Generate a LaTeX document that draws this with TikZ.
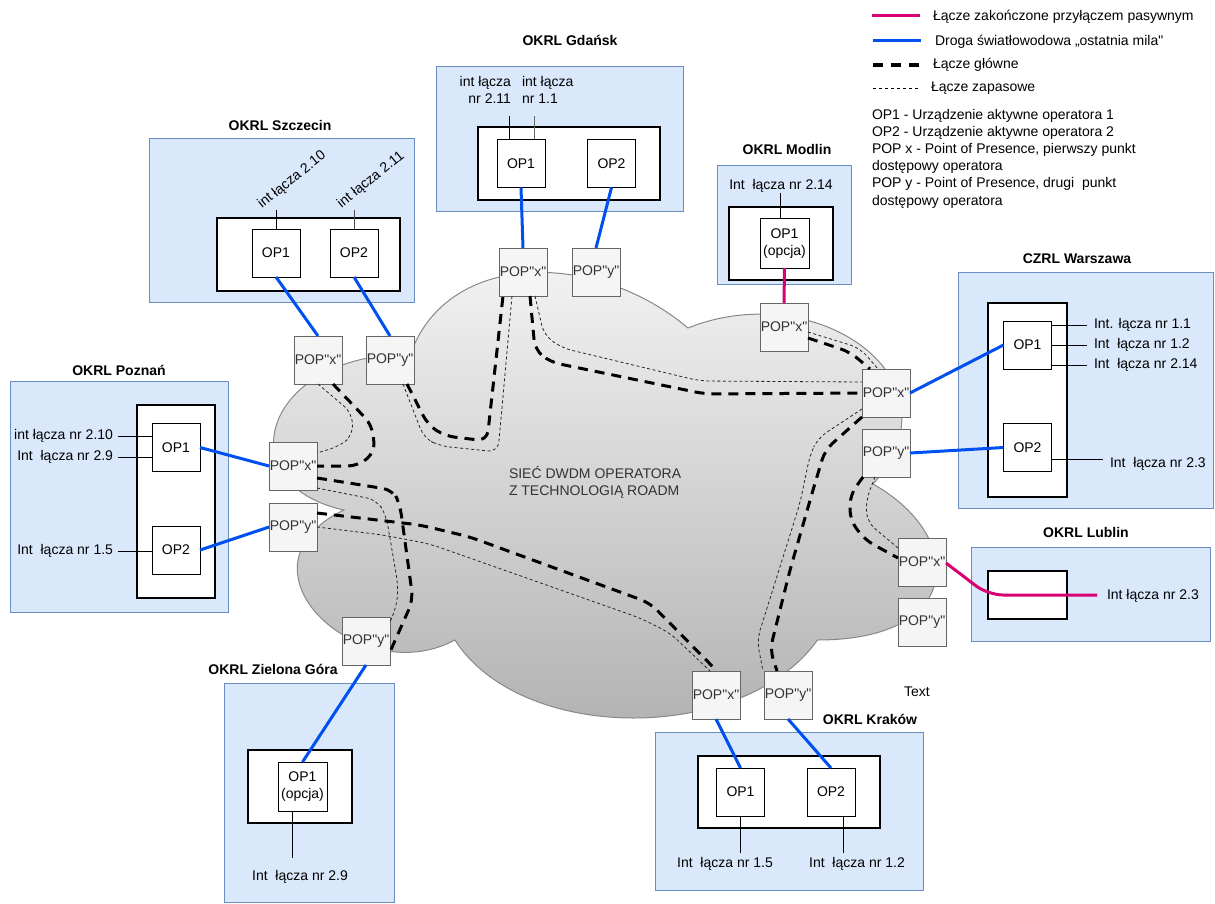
\documentclass[tikz,border=0pt]{standalone}
\usepackage{fontspec}
\setmainfont{Liberation Sans}[Ligatures=TeXOff]
\usetikzlibrary{calc}
\definecolor{regfill}{HTML}{DAE8FC}
\definecolor{regline}{HTML}{6C8EBF}
\definecolor{popfill}{HTML}{F5F5F5}
\definecolor{popline}{HTML}{666666}
\definecolor{poptext}{HTML}{333333}
\definecolor{bluelink}{HTML}{0050EF}
\definecolor{maglink}{HTML}{D80073}
\definecolor{cloudtop}{HTML}{F4F4F4}
\definecolor{cloudbot}{HTML}{B0B0B0}
\definecolor{cloudline}{HTML}{888888}
\begin{document}
\begin{tikzpicture}[x=1pt,y=-1pt,
  every node/.style={font=\fontsize{14}{17}\selectfont, inner sep=0pt, outer sep=0pt},
  region/.style={draw=regline, fill=regfill, line width=1pt},
  frame/.style={draw=black, fill=white, line width=1.3pt},
  opbox/.style={draw=black, fill=white, line width=1pt, minimum width=48pt, minimum height=48pt, align=center},
  popbox/.style={draw=popline, fill=popfill, line width=1pt, minimum width=48pt, minimum height=48pt, text=poptext},
  title/.style={font=\fontsize{14}{17}\selectfont\bfseries, text height=10pt, text depth=3pt},
  lbl/.style={text height=10pt, text depth=3pt},
  mainlink/.style={line width=3pt, dash pattern=on 10pt off 7pt, rounded corners=10pt},
  backlink/.style={line width=0.8pt, dash pattern=on 3pt off 2.5pt, draw=black!85, rounded corners=10pt},
  fiber/.style={line width=3pt, draw=bluelink},
  passive/.style={line width=3pt, draw=maglink},
  wire/.style={line width=1pt, draw=black}]
\useasboundingbox (0,0) rectangle (1215,904);

% cloud
\path[draw=cloudline, line width=1pt, top color=cloudtop, bottom color=cloudbot]
 (410.5,354) .. controls (262.5,354) and (225.5,484) .. (343.9,510)
 .. controls (225.5,567.2) and (358.7,692) .. (454.9,640)
 .. controls (521.5,744) and (743.5,744) .. (817.5,640)
 .. controls (965.5,640) and (965.5,536) .. (873,484)
 .. controls (965.5,380) and (817.5,276) .. (688,328)
 .. controls (595.5,250) and (447.5,250) .. (410.5,354) -- cycle;
\node[align=left, anchor=west, text=poptext] (cloudtxt) at (509,482) {SIEĆ DWDM OPERATORA\\Z TECHNOLOGIĄ ROADM};

% regions
\node[region, minimum width=265pt, minimum height=163pt] (szr) at (281.5,220.5) {};
\node[region, minimum width=247pt, minimum height=145pt] (gdr) at (559.5,139.5) {};
\node[region, minimum width=134pt, minimum height=118pt] (mor) at (784,225) {};
\node[region, minimum width=255pt, minimum height=236pt] (war) at (1085.5,390) {};
\node[region, minimum width=218pt, minimum height=231pt] (por) at (119,496.5) {};
\node[region, minimum width=239pt, minimum height=94pt] (lur) at (1090.5,594) {};
\node[region, minimum width=170pt, minimum height=219pt] (zgr) at (309,792.5) {};
\node[region, minimum width=268pt, minimum height=158pt] (krr) at (789,811) {};

% titles
\node[title] (tsz) at (280,127) {OKRL Szczecin};
\node[title] (tgd) at (570,42) {OKRL Gdańsk};
\node[title] (tmo) at (787,151) {OKRL Modlin};
\node[title] (twa) at (1077,260) {CZRL Warszawa};
\node[title] (tpo) at (119,372) {OKRL Poznań};
\node[title] (tlu) at (1086,534) {OKRL Lublin};
\node[title] (tzg) at (273,671) {OKRL Zielona Góra};
\node[title] (tkr) at (870,721) {OKRL Kraków};

% frames
\node[frame, minimum width=183pt, minimum height=73pt] (szf) at (308.5,254.5) {};
\node[frame, minimum width=182pt, minimum height=73pt] (gdf) at (569,163.5) {};
\node[frame, minimum width=104pt, minimum height=73pt] (mof) at (781,243.5) {};
\node[frame, minimum width=79pt, minimum height=194pt] (waf) at (1027.5,400) {};
\node[frame, minimum width=78pt, minimum height=193pt] (pof) at (176,501.5) {};
\node[frame, minimum width=79pt, minimum height=48pt] (luf) at (1027.5,595) {};
\node[frame, minimum width=104pt, minimum height=73pt] (zgf) at (300,786.5) {};
\node[frame, minimum width=182pt, minimum height=72pt] (krf) at (789,792) {};

% OP devices
\node[opbox] (sz1) at (276,253) {OP1};
\node[opbox] (sz2) at (354,253) {OP2};
\node[opbox] (gd1) at (521,163.5) {OP1};
\node[opbox] (gd2) at (611.5,163.5) {OP2};
\node[opbox, minimum width=49pt, minimum height=49pt] (mo1) at (784.5,243.5) {OP1\\(opcja)};
\node[opbox] (wa1) at (1027.5,345) {OP1};
\node[opbox] (wa2) at (1027.5,447.5) {OP2};
\node[opbox] (po1) at (176,447.5) {OP1};
\node[opbox] (po2) at (176,550) {OP2};
\node[opbox, minimum width=49pt, minimum height=49pt] (zg1) at (302.5,786.5) {OP1\\(opcja)};
\node[opbox] (kr1) at (740.5,792) {OP1};
\node[opbox] (kr2) at (831,792) {OP2};

% POPs
\node[popbox] (szx) at (318,360) {POP"x"};
\node[popbox] (szy) at (390,360) {POP"y"};
\node[popbox] (gdx) at (523,272) {POP"x"};
\node[popbox] (gdy) at (596,272) {POP"y"};
\node[popbox] (mox) at (784,327) {POP"x"};
\node[popbox] (wax) at (886,393) {POP"x"};
\node[popbox] (way) at (886,453) {POP"y"};
\node[popbox] (pox) at (293,466) {POP"x"};
\node[popbox] (poy) at (293,527) {POP"y"};
\node[popbox] (lux) at (922,562) {POP"x"};
\node[popbox] (luy) at (922,622) {POP"y"};
\node[popbox] (zgy) at (366,641) {POP"y"};
\node[popbox] (krx) at (716,695) {POP"x"};
\node[popbox] (kry) at (788,695) {POP"y"};

% main and backup links
\draw[mainlink] ($(szx.south)+(15,0)$) -- (372,425) -- (375,452) -- (358,466) -- (pox.east);
\draw[backlink] (szx.south) -- (352,413) -- (353,435) -- (340,446) -- ($(pox.east)+(0,-13)$);
\draw[mainlink] ($(szy.south)+(17,0)$) -- (428,425) -- (445,436) -- (487,441) -- ($(gdx.south)+(-20,0)$);
\draw[backlink] ($(szy.south)+(13,0)$) -- (424,438) -- (440,446) -- (498,452) -- ($(gdx.south)+(-11,0)$);
\draw[mainlink] ($(gdx.south)+(7,0)$) -- (535,350) -- (550,362) -- (705,394) -- (wax.west);
\draw[backlink] ($(gdx.south)+(12,0)$) -- (544,335) -- (562,348) -- (700,381) -- ($(wax.west)+(0,-11)$);
\draw[mainlink] ($(mox.east)+(0,11)$) -- (850,352) -- ($(wax.north)+(-16,0)$);
\draw[backlink] ($(mox.east)+(0,5)$) -- (860,348) -- ($(wax.north)+(-8,0)$);
\draw[mainlink] (wax.south west) -- (825,450) -- (813,490) -- (790,570) -- (770,650) -- ($(kry.north)+(-11,0)$);
\draw[backlink] ($(wax.west)+(0,16)$) -- (818,438) -- (810,455) -- (800,503) -- (757,640) -- ($(kry.north)+(-25,0)$);
\draw[mainlink] ($(way.south)+(-23,0)$) -- (850,495) -- (850,520) -- (865,540) -- ($(lux.west)+(0,-4)$);
\draw[backlink] ($(way.south)+(-11,0)$) -- (866,500) -- (867,522) -- ($(lux.west)+(0,-14)$);
\draw[mainlink] ($(pox.east)+(0,12)$) -- (393,490) -- (400,505) -- (413,600) -- ($(zgy.east)+(0,11)$);
\draw[backlink] ($(pox.east)+(0,22)$) -- (377,500) -- (386,515) -- (398,585) -- (397,605) -- ($(zgy.east)+(0,-19)$);
\draw[mainlink] ($(poy.east)+(0,-14)$) -- (420,525) -- (470,537) -- (650,603) -- ($(krx.north)+(1,0)$);
\draw[backlink] (poy.east) -- (383,535) -- (430,544) -- (640,618) -- (670,633) -- ($(krx.north)+(-6,0)$);

% last mile fibre
\draw[fiber] (sz1.south) -- (szx.north);
\draw[fiber] (sz2.south) -- (szy.north);
\draw[fiber] (gd1.south) -- (gdx.north);
\draw[fiber] (gd2.south) -- (gdy.north);
\draw[fiber] (wax.east) -- (wa1.west);
\draw[fiber] (way.east) -- (wa2.west);
\draw[fiber] (po1.east) -- (pox.west);
\draw[fiber] (po2.east) -- (poy.west);
\draw[fiber] (zgy.south) -- (zg1.north);
\draw[fiber] (krx.south) -- (kr1.north);
\draw[fiber] (kry.south) -- (kr2.north);
\draw[passive] (mo1.south) -- (mox.north);

% interface labels
\draw[wire] (sz1.north) -- ++(0,-19);
\draw[wire, draw=black!70] (sz2.north) -- ++(0,-19);
\node[rotate=39] (szl1) at (292,180) {int łącza 2.10};
\node[rotate=39] (szl2) at (371,180) {int łącza 2.11};

\draw[wire] ($(gd1.north)+(-12,0)$) -- ++(0,-23);
\draw[wire, draw=black!60] ($(gd1.north)+(13,0)$) -- ++(0,-23);
\node[align=right, anchor=east] (gdl1) at (511,90) {int łącza\\nr 2.11};
\node[align=left, anchor=west] (gdl2) at (522,90) {int łącza\\nr 1.1};

\node[lbl] (mol) at (781,186) {Int~ łącza nr 2.14};
\draw[wire] ($(mo1.north)+(-4,0)$) -- ++(0,-26);

\node[lbl, anchor=west] (wl1) at (1094,325) {Int. łącza nr 1.1};
\node[lbl, anchor=west] (wl2) at (1094,345) {Int~ łącza nr 1.2};
\node[lbl, anchor=west] (wl3) at (1094,365) {Int~ łącza nr 2.14};
\node[lbl, anchor=west] (wl4) at (1110,464) {Int~ łącza nr 2.3};
\draw[wire] (wa1.east |- wl1) -- ($(wl1.west)+(-7,0)$);
\draw[wire] (wa1.east |- wl2) -- ($(wl2.west)+(-7,0)$);
\draw[wire] (wa1.east |- wl3) -- ($(wl3.west)+(-7,0)$);
\draw[wire] ($(wa2.east)+(0,11.5)$) -- ($(wl4.west)+(-7,-5)$);

\node[lbl, anchor=east] (pl1) at (113,436) {int łącza nr 2.10};
\node[lbl, anchor=east] (pl2) at (113,457) {Int~ łącza nr 2.9};
\node[lbl, anchor=east] (pl3) at (113,551) {Int~ łącza nr 1.5};
\draw[wire] ($(pl1.east)+(5,0)$) -- (po1.west |- pl1);
\draw[wire] ($(pl2.east)+(5,0)$) -- (po1.west |- pl2);
\draw[wire] ($(pl3.east)+(5,0)$) -- (po2.west |- pl3);

\node[lbl, anchor=west] (lul) at (1107,596) {Int łącza nr 2.3};
\draw[passive, rounded corners=15pt] ($(lux.east)+(0,1)$) -- (988,595) -- ($(lul.west)+(-10,-1)$);

\draw[wire] ($(zg1.south)+(-10,0)$) -- ++(0,47);
\node[lbl] (zgl) at (300,877) {Int~ łącza nr 2.9};

\draw[wire] (kr1.south) -- ++(0,37);
\draw[wire] ($(kr2.south)+(12,0)$) -- ++(0,37);
\node[lbl] (krl1) at (725,864) {Int~ łącza nr 1.5};
\node[lbl] (krl2) at (857,864) {Int~ łącza nr 1.2};

\node[lbl] (txt) at (917,693) {Text};

% legend
\node[lbl, anchor=west] (lg1) at (933,17) {Łącze zakończone przyłączem pasywnym};
\node[lbl, anchor=west] (lg2) at (935,42) {Droga światłowodowa „ostatnia mila"};
\node[lbl, anchor=west] (lg3) at (933,65) {Łącze główne};
\node[lbl, anchor=west] (lg4) at (931,88) {Łącze zapasowe};
\draw[passive] ($(lg1.west)+(-61,-1)$) -- ++(48,0);
\draw[fiber] ($(lg2.west)+(-62,-1)$) -- ++(48,0);
\draw[line width=3.5pt, dash pattern=on 10pt off 8pt] ($(lg3.west)+(-60,0)$) -- ++(48,0);
\draw[line width=0.8pt, dash pattern=on 3pt off 3pt] ($(lg4.west)+(-58,0)$) -- ++(48,0);
\node[anchor=north west, align=left, font=\fontsize{14}{17.2}\selectfont] (lgt) at (872,109)
 {OP1 - Urządzenie aktywne operatora 1\\OP2 - Urządzenie aktywne operatora 2\\POP x - Point of Presence, pierwszy punkt\\dostępowy operatora\\POP y - Point of Presence, drugi~ punkt\\dostępowy operatora};
\end{tikzpicture}
\end{document}
